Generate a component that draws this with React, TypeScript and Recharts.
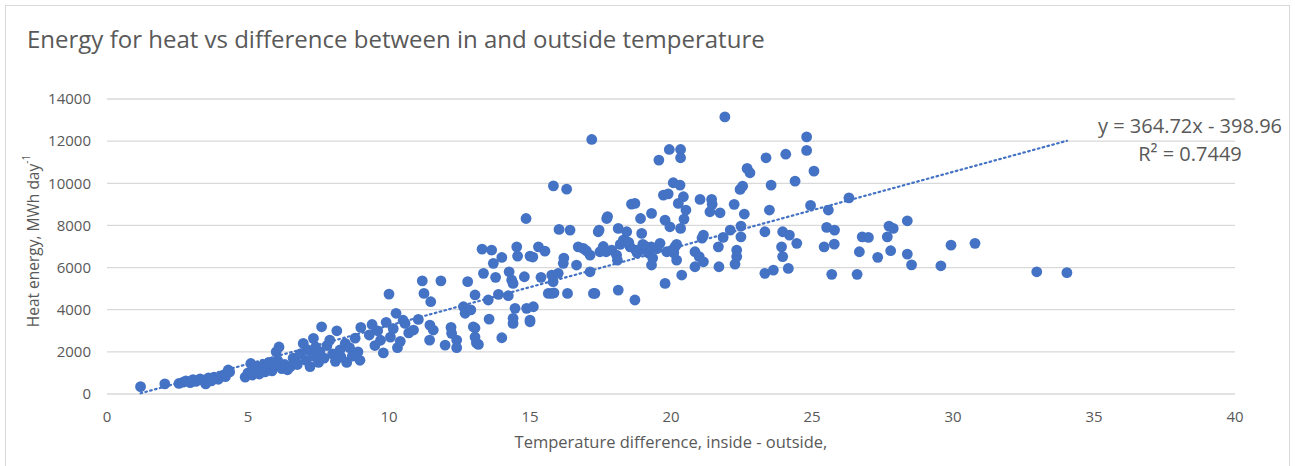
import React from 'react';
import { ScatterChart, Scatter, XAxis, YAxis, CartesianGrid, Label } from 'recharts';

// temperature difference (inside - outside), °C
const tempDiff = [
  1.19, 2.05, 2.55, 2.7, 2.8, 2.95, 3.05, 3.15, 3.3, 3.4, 3.5, 3.6, 3.7, 3.8, 3.95, 4.1, 4.2, 4.3, 4.35,
  4.9, 5.0, 5.1, 5.15, 5.25, 5.3, 5.4, 5.5, 5.55, 5.6, 5.7, 5.75, 5.85, 5.9, 6.0, 6.05, 6.1, 6.2, 6.3, 6.4, 6.5, 6.6, 6.7,
  6.75, 6.85, 6.96, 7.05, 7.1, 7.2, 7.3, 7.32, 7.4, 7.5, 7.55, 7.61, 7.7, 7.8, 7.9, 8.0, 8.1, 8.15, 8.26, 8.3, 8.45, 8.5,
  8.6, 8.7, 8.8, 8.9, 8.97, 9.0, 9.3, 9.4, 9.5, 9.6, 9.7, 9.8, 9.9, 10.0, 10.05, 10.15, 10.25, 10.3, 10.4, 10.5, 10.57,
  10.7, 10.87, 11.04,
  11.18, 11.24, 11.48, 11.84, 11.45, 11.57, 11.44, 11.99, 12.2, 12.22, 12.4, 12.4, 12.64, 12.7, 12.79, 12.9, 13.05, 13.05,
  13.05, 13.1, 12.99,
  13.3, 13.35, 13.52, 13.55, 13.64, 13.7, 13.78, 13.88, 14.0, 14.0, 14.23, 14.26, 14.35, 14.4, 14.4, 14.47, 14.4, 14.53,
  14.56, 14.8, 14.86, 14.88, 15.0, 15.0, 15.1, 15.12, 15.0, 15.3, 15.39, 15.53, 15.65, 13.17,
  15.77, 15.82, 15.77, 15.83, 15.85, 16.0, 16.03, 16.18, 16.2, 16.3, 16.33, 16.42, 16.65, 16.71, 16.89, 17.13, 17.13, 17.19,
  17.25, 17.3, 17.42, 17.45, 17.48, 17.7, 17.72, 17.75, 17.9, 18.07, 18.1, 18.13, 18.13,
  18.31, 18.4, 18.43, 18.55, 18.6, 18.72, 18.72, 18.75, 18.9, 18.92, 18.96, 19.1, 19.2, 19.31, 19.31, 19.35, 19.3, 19.57,
  19.61, 19.73, 19.79, 19.79, 19.85, 19.9, 19.94, 19.96, 20.08, 20.14, 20.2, 20.26, 20.32, 20.34, 20.34, 20.34, 20.38,
  20.44, 20.46, 20.53, 20.2, 20.0,
  17.0, 17.6, 18.2, 18.5, 18.8, 19.0, 19.5, 20.1,
  20.85, 20.85, 21.0, 21.03, 21.1, 21.15, 21.15, 21.38, 21.44, 21.46, 21.68, 21.7, 21.74, 21.85, 21.91, 22.1, 22.24, 22.27,
  22.33, 22.33, 22.45, 22.48, 22.48, 22.54, 22.6, 22.7, 22.8, 23.33, 23.33, 23.37, 23.49, 23.55, 23.63, 23.92, 23.96,
  23.96, 24.07, 24.16, 24.2, 24.4, 24.46, 24.81, 24.81, 24.95, 25.07,
  25.43, 25.52, 25.58, 25.7, 25.79, 25.8, 26.31, 26.6, 26.68, 26.78, 27.0, 27.33, 27.67, 27.73, 27.79, 27.88, 28.38, 28.38,
  28.53, 29.57, 29.93, 30.78, 32.97, 34.04,
];

// heat energy, MWh/day
const heatEnergy = [
  350, 480, 500, 560, 620, 540, 680, 600, 720, 650, 480, 760, 620, 800, 700, 880, 820, 1140, 1050,
  800, 1000, 1450, 900, 1150, 1300, 950, 1200, 1400, 1050, 1250, 1500, 1100, 1350, 2000, 1600, 2230, 1200, 1400, 1150, 1300, 1700, 1500,
  1400, 1900, 2400, 1600, 2100, 1300, 1800, 2640, 2230, 1500, 2000, 3190, 1700, 2300, 2560, 1900, 1550, 3000, 2090, 1750, 2400, 1500,
  2200, 1800, 2650, 2000, 1600, 3160, 2800, 3300, 2300, 3000, 2550, 1950, 3400, 4740, 2700, 3100, 3830, 2200, 2500, 3500, 3350,
  2900, 3035, 3540,
  5370, 4775, 4380, 5370, 3270, 3035, 2560, 2320, 3160, 2880, 2560, 2200, 4140, 3830, 5330, 3990, 3130, 2700,
  4700, 2420, 3190,
  6875, 5725, 4460, 3555, 6830, 6200, 5535, 4730, 6480, 2670, 4665, 5800, 5410, 5250, 3590, 4065, 3350, 6985,
  6545, 5565, 8330, 4065, 6545, 3510, 6500, 4140, 3430, 6985, 5535, 6780, 4775, 2355,
  5645, 5330, 4775, 9880, 4800, 5725, 7810, 6200, 6450, 9720, 4775, 7780, 6120, 6985, 6910, 6590, 5800, 12080,
  4775, 4775, 7700, 7780, 6750, 6750, 8330, 8420, 6830, 6590, 6350, 4930, 7860,
  7300, 7260, 7700, 6985, 9010, 9045, 4460, 6830, 6830, 8330, 7620, 7000, 6700, 8570, 6120, 6450, 6985, 11100,
  7150, 9440, 5250, 8250, 6750, 9500, 11605, 7935, 10025, 6985, 6355, 9045, 9915, 11605, 11210, 7860, 5645,
  9360, 8300, 8730, 7100, 6800,
  6800, 7000, 7100, 7200, 6700, 7100, 6900, 6700,
  6750, 6040, 6520, 9235, 7400, 7540, 6275, 8650, 9235, 9000, 6985, 6040, 8600, 7430, 13150, 7780, 9000, 6165,
  6830, 6520, 9710, 7970, 7460, 9865, 8540, 10705, 10500, 7700, 5725, 11210, 8730, 9915, 5880, 6985, 7700,
  6520, 11380, 5960, 7540, 10100, 7150, 12200, 11560, 8950, 10580,
  6985, 7905, 8730, 5680, 7115, 7780, 9310, 5680, 6750, 7460, 7430, 6485, 7460, 7970, 6800, 7860, 8220, 6640,
  6130, 6085, 7065, 7150, 5800, 5760,
];

const xTicks = [0, 5, 10, 15, 20, 25, 30, 35, 40];
const yTicks = [0, 2000, 4000, 6000, 8000, 10000, 12000, 14000];

// linear trendline coefficients shown on the chart
const slope = 364.72;
const intercept = -398.96;
const rSquared = 0.7449;

const points = tempDiff.map((x, i) => ({ x, y: heatEnergy[i] }));
const xMin = Math.min(...tempDiff);
const xMax = Math.max(...tempDiff);
const trendData = [
  { x: xMin, y: slope * xMin + intercept },
  { x: xMax, y: slope * xMax + intercept },
];

const blue = '#4472C4';
const grey = '#595959';
const font = '"Open Sans", sans-serif';

const Dot = (props: any) => <circle cx={props.cx} cy={props.cy} r={5.4} fill={blue} />;

const YLabel = () => (
  <text x={0} y={0} transform="translate(33, 241) rotate(-90)" textAnchor="middle" dominantBaseline="central"
    fill={grey} fontSize={15.5} fontFamily={font}>
    Heat energy, MWh day<tspan fontSize={10} dy={-7}>-1</tspan>
  </text>
);

export default function App() {
  return (
    <div style={{ position: 'absolute', left: 0, top: 0, width: 1295, height: 466, background: '#fff', overflow: 'hidden', fontFamily: font }}>
      <div style={{ position: 'absolute', left: 5, top: 5, width: 1283, height: 470, border: '1px solid #d9d9d9' }} />
      <div style={{ position: 'absolute', left: 27, top: 22, fontSize: 24, color: grey, whiteSpace: 'nowrap' }}>
        Energy for heat vs difference between in and outside temperature
      </div>
      <div style={{ position: 'absolute', left: 1080, top: 112, width: 220, textAlign: 'center', fontSize: 20, lineHeight: '28px', color: grey }}>
        <div>y = {slope}x - {Math.abs(intercept)}</div>
        <div>R² = {rSquared}</div>
      </div>
      <ScatterChart width={1295} height={466} margin={{ top: 99, right: 60, bottom: 42, left: 40 }} style={{ position: 'absolute', left: 0, top: 0 }}>
        <CartesianGrid vertical={false} stroke="#d9d9d9" strokeWidth={1.3} />
        <XAxis type="number" dataKey="x" domain={[0, 40]} ticks={xTicks} axisLine={false} tickLine={false}
          tickMargin={11} height={30} tick={{ fill: grey, fontSize: 15, fontFamily: font }}>
          <Label value="Temperature difference, inside - outside," position="bottom" offset={12} fill={grey} fontSize={16.5} fontFamily={font} />
        </XAxis>
        <YAxis type="number" dataKey="y" domain={[0, 14000]} ticks={yTicks} axisLine={false} tickLine={false}
          tickMargin={10} width={67} tick={{ fill: grey, fontSize: 15, fontFamily: font }}>
          <Label content={<YLabel />} />
        </YAxis>
        <Scatter data={points} shape={<Dot />} isAnimationActive={false} />
        <Scatter data={trendData} isAnimationActive={false} shape={() => <g />}
          line={{ stroke: blue, strokeWidth: 2.2, strokeDasharray: '1.6 3.4', strokeLinecap: 'round' }} />
      </ScatterChart>
    </div>
  );
}
